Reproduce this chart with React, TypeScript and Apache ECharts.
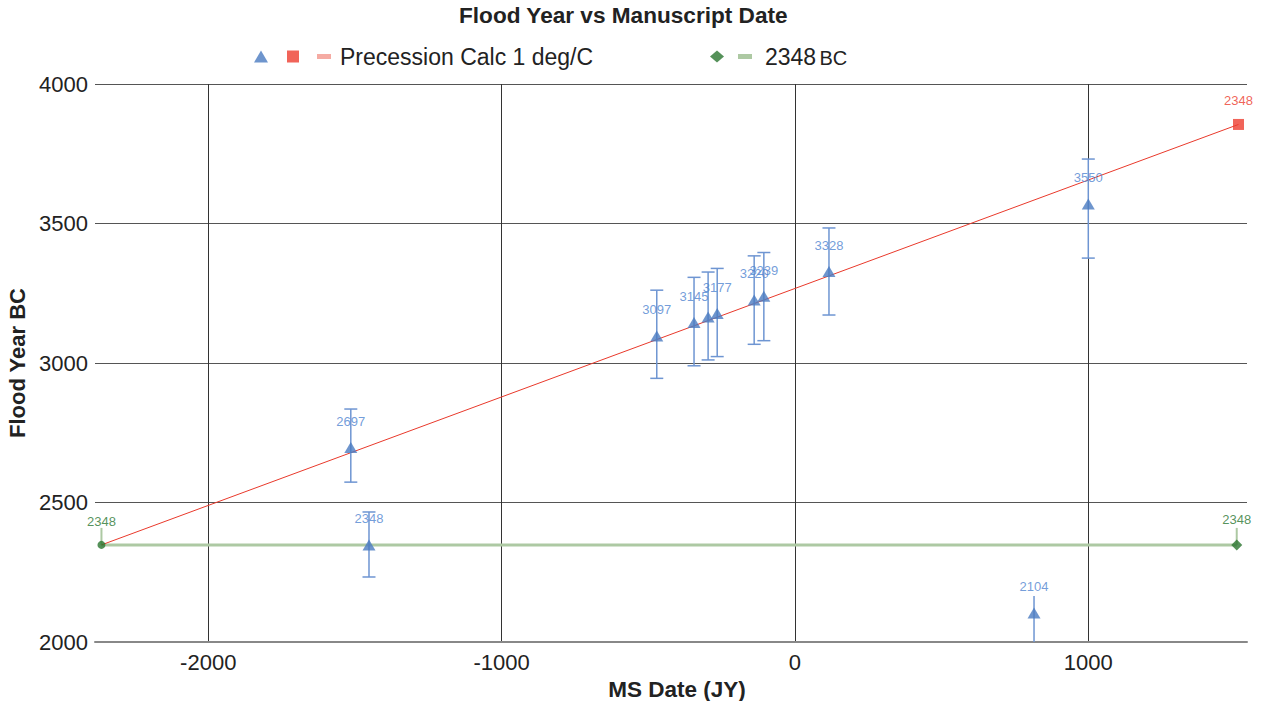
import React, { useEffect, useRef } from "react";
import * as echarts from "echarts";

// Observed manuscripts
const msDates = [-1514, -1452, -471, -344, -296, -265, -139, -106, 116, 1000, 815];
const floodYears = [2697, 2348, 3097, 3145, 3165, 3177, 3226, 3239, 3328, 3570, 2104];
const floodLabels = ["2697", "2348", "3097", "3145", "", "3177", "3220", "3239", "3328", "3550", "2104"];
const errLow = [2573, 2233, 2945, 2990, 3011, 3023, 3067, 3080, 3172, 3376, 1950];
const errHigh = [2835, 2466, 3261, 3307, 3326, 3339, 3384, 3396, 3484, 3731, 2165];

// Precession calculation line
const calcX = [-2364, 1512];
const calcY = [2348, 3855];
const calcEndLabel = "2348";

// 2348 BC reference line
const refX = [-2364, 1506];
const refY = [2348, 2348];
const refTickTop = 2409;
const refLabel = "2348";

const xMin = -2386;
const xMax = 1541;
const yMin = 2000;
const yMax = 4000;
const yInterval = 500;

const FONT = "'Liberation Sans', Arial, Helvetica, sans-serif";
const BLUE = "#4a7bc0";
const BLUE_LABEL = "#4f84d0";
const BLUE_ERR = "#6e95d2";
const RED = "#e9392b";
const PINK = "#f5aba3";
const GREEN = "#2a7530";
const GREEN_LIGHT = "#adc9a3";

export default function App() {
  const ref = useRef<HTMLDivElement>(null);
  useEffect(() => {
    if (!ref.current) return;
    const chart = echarts.init(ref.current, null, { renderer: "svg" });

    const obsData = msDates.map((x, i) => [x, floodYears[i], floodLabels[i]]);
    const errData = msDates.map((x, i) => [x, errLow[i], errHigh[i]]);

    const option: any = {
      animation: false,
      textStyle: { fontFamily: FONT },
      title: {
        text: "Flood Year vs Manuscript Date",
        left: 459,
        top: 4,
        padding: 0,
        textStyle: { fontFamily: FONT, fontSize: 22.6, fontWeight: "bold", color: "#222" },
      },
      legend: [
        {
          left: 254,
          top: 45,
          padding: 0,
          itemWidth: 14,
          itemHeight: 12,
          itemGap: 18,
          selectedMode: false,
          data: [
            { name: "obs", icon: "triangle" },
            { name: "calcEnd", icon: "path://M0 0H10V10H0Z" },
            {
              name: "Precession Calc 1 deg/C",
              icon: "path://M0 0H14V5H0Z",
              itemStyle: { color: PINK },
              textStyle: { padding: [0, 0, 0, 4] },
            },
          ],
          formatter: (n: string) => (n === "obs" || n === "calcEnd" ? "" : n),
          textStyle: { fontFamily: FONT, fontSize: 23, color: "#222" },
        },
        {
          left: 710,
          top: 45,
          padding: 0,
          itemWidth: 14,
          itemHeight: 12,
          itemGap: 14,
          selectedMode: false,
          data: [
            { name: "refPts", icon: "diamond" },
            {
              name: "2348 BC",
              icon: "path://M0 0H14V5H0Z",
              itemStyle: { color: GREEN_LIGHT },
              textStyle: { padding: [0, 0, 0, 8] },
            },
          ],
          formatter: (n: string) => (n === "refPts" ? "" : "{a|2348} {b|BC}"),
          textStyle: {
            fontFamily: FONT,
            color: "#222",
            rich: {
              a: { fontFamily: FONT, fontSize: 23, lineHeight: 28, color: "#222" },
              b: { fontFamily: FONT, fontSize: 20, lineHeight: 28, color: "#222", padding: [3, 0, 0, 0] },
            },
          },
        },
      ],
      grid: { left: 95, right: 15, top: 84, bottom: 59, containLabel: false, outerBoundsMode: "none" },
      xAxis: {
        type: "value",
        min: xMin,
        max: xMax,
        splitNumber: 4,
        name: "MS Date (JY)",
        nameLocation: "middle",
        nameGap: 35,
        nameTextStyle: {
          fontFamily: FONT,
          fontSize: 22.5,
          fontWeight: "bold",
          color: "#222",
          padding: [0, 0, 0, 12],
        },
        axisLine: { show: true, onZero: false, lineStyle: { color: "#888", width: 2 } },
        axisTick: { show: false },
        axisLabel: {
          fontFamily: FONT,
          fontSize: 22,
          color: "#222",
          margin: 9,
          showMinLabel: false,
          showMaxLabel: false,
          formatter: (v: number) => String(v),
        },
        splitLine: {
          show: true,
          showMinLine: false,
          showMaxLine: false,
          lineStyle: { color: "#333", width: 1 },
        },
      },
      yAxis: {
        type: "value",
        min: yMin,
        max: yMax,
        interval: yInterval,
        name: "Flood Year BC",
        nameLocation: "middle",
        nameGap: 59,
        nameTextStyle: { fontFamily: FONT, fontSize: 22, fontWeight: "bold", color: "#222" },
        axisLine: { show: false },
        axisTick: { show: false },
        axisLabel: { fontFamily: FONT, fontSize: 22, color: "#222", margin: 7, formatter: (v: number) => String(v) },
        splitLine: { show: true, lineStyle: { color: "#555", width: 1 } },
      },
      series: [
        {
          name: "2348 BC",
          type: "line",
          data: refX.map((x, i) => [x, refY[i]]),
          showSymbol: false,
          symbol: "none",
          lineStyle: { color: GREEN_LIGHT, width: 3 },
          itemStyle: { color: GREEN_LIGHT },
          z: 2,
          silent: true,
        },
        {
          name: "refTicks",
          type: "custom",
          silent: true,
          z: 2,
          data: refX.map((x) => [x, refY[0], refTickTop]),
          renderItem: (params: any, api: any) => {
            const a = api.coord([api.value(0), api.value(1)]);
            const b = api.coord([api.value(0), api.value(2)]);
            return {
              type: "line",
              shape: { x1: a[0], y1: a[1], x2: b[0], y2: b[1] },
              style: { stroke: GREEN_LIGHT, lineWidth: 2 },
            };
          },
        },
        {
          name: "refPts",
          type: "scatter",
          z: 4,
          itemStyle: { color: GREEN },
          data: refX.map((x, i) => ({
            value: [x, refY[i]],
            symbol: i === 0 ? "circle" : "diamond",
            symbolSize: i === 0 ? 8 : 11,
          })),
          label: {
            show: true,
            position: "top",
            distance: 13,
            formatter: () => refLabel,
            color: GREEN,
            fontFamily: FONT,
            fontSize: 13,
          },
        },
        {
          name: "Precession Calc 1 deg/C",
          type: "line",
          data: calcX.map((x, i) => [x, calcY[i]]),
          showSymbol: false,
          symbol: "none",
          lineStyle: { color: RED, width: 1 },
          itemStyle: { color: PINK },
          z: 3,
          silent: true,
        },
        {
          name: "calcEnd",
          type: "scatter",
          z: 4,
          symbol: "rect",
          symbolSize: 11,
          itemStyle: { color: "#ee3d30" },
          data: [[calcX[1], calcY[1]]],
          label: {
            show: true,
            position: "top",
            distance: 12,
            formatter: () => calcEndLabel,
            color: "#ec3a2c",
            fontFamily: FONT,
            fontSize: 13,
          },
        },
        {
          name: "errBars",
          type: "custom",
          silent: true,
          z: 5,
          data: errData,
          renderItem: (params: any, api: any) => {
            const x = api.value(0);
            const lo = api.value(1);
            const hi = api.value(2);
            const cs = params.coordSys;
            const bottom = cs.y + cs.height;
            const p1 = api.coord([x, hi]);
            const p2 = api.coord([x, lo]);
            const y2 = Math.min(p2[1], bottom);
            const children: any[] = [
              {
                type: "line",
                shape: { x1: p1[0], y1: p1[1], x2: p1[0], y2 },
                style: { stroke: BLUE_ERR, lineWidth: 1.5 },
              },
            ];
            if (lo >= yMin) {
              const hw = 6.5;
              children.push(
                {
                  type: "line",
                  shape: { x1: p1[0] - hw, y1: p1[1], x2: p1[0] + hw, y2: p1[1] },
                  style: { stroke: BLUE_ERR, lineWidth: 1.5 },
                },
                {
                  type: "line",
                  shape: { x1: p2[0] - hw, y1: p2[1], x2: p2[0] + hw, y2: p2[1] },
                  style: { stroke: BLUE_ERR, lineWidth: 1.5 },
                }
              );
            }
            return { type: "group", children };
          },
        },
        {
          name: "obs",
          type: "scatter",
          z: 6,
          symbol: "triangle",
          symbolSize: [13, 11],
          itemStyle: { color: BLUE },
          data: obsData,
          encode: { x: 0, y: 1 },
          label: {
            show: true,
            position: "top",
            distance: 14,
            formatter: (p: any) => p.value[2],
            color: BLUE_LABEL,
            fontFamily: FONT,
            fontSize: 13,
          },
        },
      ],
    };

    chart.setOption(option);
    return () => chart.dispose();
  }, []);

  return <div ref={ref} style={{ width: 1262, height: 701, position: "absolute", left: 0, top: 0 }} />;
}
